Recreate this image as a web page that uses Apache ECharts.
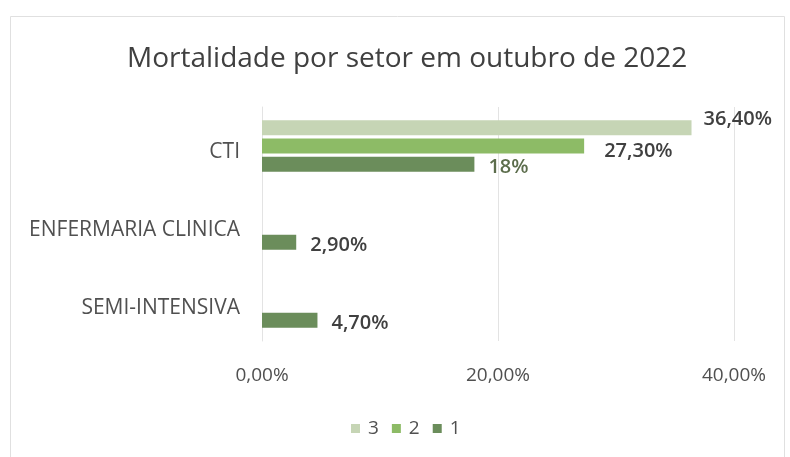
<!DOCTYPE html>
<html>
<head>
<meta charset="utf-8">
<script src="https://cdn.jsdelivr.net/npm/echarts@6/dist/echarts.min.js"></script>
<style>html,body{margin:0;padding:0;background:#fff;}#c{width:790px;height:457px;}</style>
</head>
<body>
<div id="c"></div>
<script>
const categories = ['CTI', 'ENFERMARIA CLINICA', 'SEMI-INTENSIVA'];
const seriesNames = ['3', '2', '1'];
const values3 = [36.4, null, null];
const values2 = [27.3, null, null];
const values1 = [18, 2.9, 4.7];
const labels3 = ['36,40%', '', ''];
const labels2 = ['27,30%', '', ''];
const labels1 = ['18%', '2,90%', '4,70%'];
const xTicks = ['0,00%', '20,00%', '40,00%'];

const FONT = 'Open Sans';
const chart = echarts.init(document.getElementById('c'), null, {renderer: 'canvas'});

function mkLabel(labels, extra) {
  return Object.assign({
    show: true, position: 'right', distance: 12,
    fontFamily: FONT, fontSize: 20, fontWeight: 600, color: '#404040',
    formatter: p => labels[p.dataIndex]
  }, extra || {});
}

const data1 = values1.map((v, i) => i === 0 ? {value: v, label: {color: '#5c6d4c'}} : v);

chart.setOption({
  animation: false,
  backgroundColor: '#fff',
  title: {
    text: 'Mortalidade por setor em outubro de 2022',
    left: 122, top: 40,
    textStyle: {fontFamily: FONT, fontSize: 28, fontWeight: 'normal', color: '#404040'}
  },
  graphic: [{
    type: 'rect', shape: {x: 10.5, y: 16.5, width: 774, height: 460},
    style: {fill: 'none', stroke: '#e0e0e0', lineWidth: 1}, silent: true, z: -1
  }],
  legend: {
    data: seriesNames, left: 346, top: 414,
    itemWidth: 9, itemHeight: 9, itemGap: 13, icon: 'rect',
    textStyle: {fontFamily: FONT, fontSize: 19, color: '#505050', padding: [0,0,0,3]}
  },
  grid: {left: 262, right: 56, top: 107, bottom: 116, containLabel: false},
  xAxis: {
    type: 'value', min: 0, max: 40, interval: 20,
    axisLine: {show: false}, axisTick: {show: false},
    splitLine: {show: true, lineStyle: {color: '#e3e3e3', width: 1}},
    axisLabel: {
      fontFamily: FONT, fontSize: 19, color: '#505050', margin: 25,
      formatter: v => xTicks[Math.round(v / 20)]
    }
  },
  yAxis: {
    type: 'category', data: categories, inverse: true,
    axisLine: {show: true, lineStyle: {color: '#e3e3e3'}}, axisTick: {show: false},
    axisLabel: {fontFamily: FONT, fontSize: 21, color: '#505050', margin: 22,
      verticalAlign: 'top', lineHeight: 12}
  },
  series: [
    {name: '3', type: 'bar', data: values3, barWidth: 15, barGap: '22%',
     itemStyle: {color: '#c6d5b5'}, label: mkLabel(labels3, {offset: [0, -8]})},
    {name: '2', type: 'bar', data: values2, barWidth: 15, barGap: '22%',
     itemStyle: {color: '#8dbb66'}, label: mkLabel(labels2, {offset: [8, 5]})},
    {name: '1', type: 'bar', data: data1, barWidth: 15, barGap: '22%',
     itemStyle: {color: '#6b8d5b'}, label: mkLabel(labels1, {offset: [2, 3]})}
  ]
});
</script>
</body>
</html>
